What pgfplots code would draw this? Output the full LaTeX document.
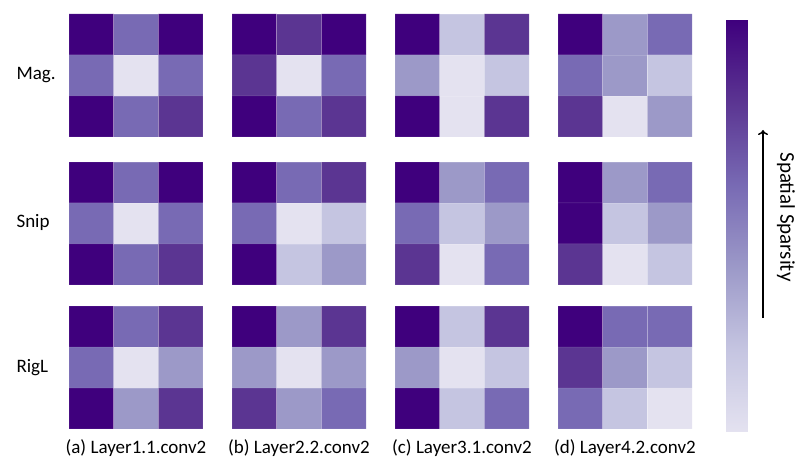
\documentclass[border=0pt]{standalone}
\usepackage{fontspec}
\setmainfont{Carlito}
\usepackage{pgfplots}
\pgfplotsset{compat=1.18}
\usetikzlibrary{arrows.meta}
\pgfplotsset{
  colormap={purp}{rgb255=(228,226,240) rgb255=(197,197,225) rgb255=(156,153,200) rgb255=(120,106,180) rgb255=(91,53,146) rgb255=(63,0,125)},
  hm/.style={anchor=north west, width=134pt, height=123pt, scale only axis, hide axis,
    xmin=-0.5, xmax=2.5, ymin=-0.5, ymax=2.5, y dir=reverse,
    colormap name=purp, point meta min=0, point meta max=5},
  cell/.style={matrix plot*, mesh/cols=3, point meta=explicit, draw=white, draw opacity=0.15, line width=0.5pt},
}
\begin{document}
\begin{tikzpicture}[x=1pt,y=1pt]
\path[use as bounding box] (0,0) rectangle (806,-465);
% ---------- Row 1: Mag. ----------
\begin{axis}[hm, at={(69pt,-14pt)}]
\addplot[cell] coordinates {(0,0)[5] (1,0)[3] (2,0)[5] (0,1)[3] (1,1)[0] (2,1)[3] (0,2)[5] (1,2)[3] (2,2)[4]};
\end{axis}
\begin{axis}[hm, at={(232pt,-14pt)}]
\addplot[cell] coordinates {(0,0)[5] (1,0)[4] (2,0)[5] (0,1)[4] (1,1)[0] (2,1)[3] (0,2)[5] (1,2)[3] (2,2)[4]};
\end{axis}
\begin{axis}[hm, at={(395pt,-14pt)}]
\addplot[cell] coordinates {(0,0)[5] (1,0)[1] (2,0)[4] (0,1)[2] (1,1)[0] (2,1)[1] (0,2)[5] (1,2)[0] (2,2)[4]};
\end{axis}
\begin{axis}[hm, at={(558pt,-14pt)}]
\addplot[cell] coordinates {(0,0)[5] (1,0)[2] (2,0)[3] (0,1)[3] (1,1)[2] (2,1)[1] (0,2)[4] (1,2)[0] (2,2)[2]};
\end{axis}
% ---------- Row 2: Snip ----------
\begin{axis}[hm, at={(69pt,-162pt)}]
\addplot[cell] coordinates {(0,0)[5] (1,0)[3] (2,0)[5] (0,1)[3] (1,1)[0] (2,1)[3] (0,2)[5] (1,2)[3] (2,2)[4]};
\end{axis}
\begin{axis}[hm, at={(232pt,-162pt)}]
\addplot[cell] coordinates {(0,0)[5] (1,0)[3] (2,0)[4] (0,1)[3] (1,1)[0] (2,1)[1] (0,2)[5] (1,2)[1] (2,2)[2]};
\end{axis}
\begin{axis}[hm, at={(395pt,-162pt)}]
\addplot[cell] coordinates {(0,0)[5] (1,0)[2] (2,0)[3] (0,1)[3] (1,1)[1] (2,1)[2] (0,2)[4] (1,2)[0] (2,2)[3]};
\end{axis}
\begin{axis}[hm, at={(558pt,-162pt)}]
\addplot[cell] coordinates {(0,0)[5] (1,0)[2] (2,0)[3] (0,1)[5] (1,1)[1] (2,1)[2] (0,2)[4] (1,2)[0] (2,2)[1]};
\end{axis}
% ---------- Row 3: RigL ----------
\begin{axis}[hm, at={(69pt,-306pt)}]
\addplot[cell] coordinates {(0,0)[5] (1,0)[3] (2,0)[4] (0,1)[3] (1,1)[0] (2,1)[2] (0,2)[5] (1,2)[2] (2,2)[4]};
\end{axis}
\begin{axis}[hm, at={(232pt,-306pt)}]
\addplot[cell] coordinates {(0,0)[5] (1,0)[2] (2,0)[4] (0,1)[2] (1,1)[0] (2,1)[2] (0,2)[4] (1,2)[2] (2,2)[3]};
\end{axis}
\begin{axis}[hm, at={(395pt,-306pt)}]
\addplot[cell] coordinates {(0,0)[5] (1,0)[1] (2,0)[4] (0,1)[2] (1,1)[0] (2,1)[1] (0,2)[5] (1,2)[1] (2,2)[3]};
\end{axis}
\begin{axis}[hm, at={(558pt,-306pt)}]
\addplot[cell] coordinates {(0,0)[5] (1,0)[3] (2,0)[3] (0,1)[4] (1,1)[2] (2,1)[1] (0,2)[3] (1,2)[1] (2,2)[0]};
\end{axis}
% ---------- Colorbar ----------
\begin{axis}[anchor=north west, at={(726pt,-20pt)}, width=21pt, height=412pt, scale only axis, hide axis,
  xmin=0, xmax=1, ymin=0, ymax=5, colormap name=purp, point meta min=0, point meta max=5]
\addplot[surf, shader=interp, mesh/cols=2, point meta=y] coordinates {
 (0,0) (1,0)
 (0,1) (1,1)
 (0,2) (1,2)
 (0,3) (1,3)
 (0,4) (1,4)
 (0,5) (1,5)
};
\end{axis}
\draw[-{To[length=5pt,width=10pt]}, line width=1.4pt] (763,-318) -- (763,-130);
\node[rotate=-90, font=\fontsize{21}{25}\selectfont] at (786,-217) {Spatial Sparsity};
% ---------- Labels ----------
\node[anchor=west, font=\fontsize{19}{23}\selectfont] at (13,-75) {Mag.};
\node[anchor=west, font=\fontsize{19}{23}\selectfont] at (13,-222) {Snip};
\node[anchor=west, font=\fontsize{19}{23}\selectfont] at (13,-368) {RigL};
\node[font=\fontsize{19}{23}\selectfont] at (136,-448) {(a) Layer1.1.conv2};
\node[font=\fontsize{19}{23}\selectfont] at (299,-448) {(b) Layer2.2.conv2};
\node[font=\fontsize{19}{23}\selectfont] at (462,-448) {(c) Layer3.1.conv2};
\node[font=\fontsize{19}{23}\selectfont] at (625,-448) {(d) Layer4.2.conv2};
\end{tikzpicture}
\end{document}
